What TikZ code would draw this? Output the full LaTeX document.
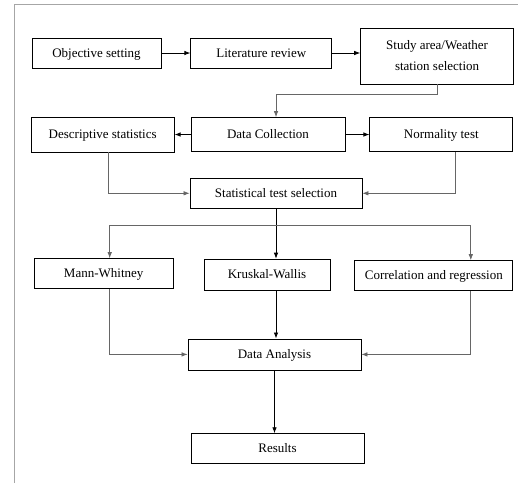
\documentclass[tikz,border=0pt]{standalone}
\usepackage{fontspec}
\setmainfont{Liberation Serif}
\usetikzlibrary{arrows.meta, positioning, calc}

\begin{document}
\begin{tikzpicture}[x=1pt, y=-1pt, >={Latex[length=6pt,width=4.5pt]},
    box/.style={draw, line width=0.8pt, inner sep=0pt, text height=9pt, text depth=1pt,
                font=\fontsize{13}{15}\selectfont},
    arr/.style={->, line width=0.8pt},
    elbow/.style={->, draw=black!60, line width=0.7pt}]
    \useasboundingbox (0,0) rectangle (518,483);
    % frame
    \draw[black!35, line width=1pt] (14,483) -- (14,4) -- (518,4);

    \node[box, minimum width=129pt, minimum height=30pt] (O) at (96.5,53) {Objective setting};
    \node[box, minimum width=141pt, minimum height=30pt, right=29pt of O] (L) {Literature review};
    \node[box, minimum width=153pt, minimum height=56pt, right=28pt of L, yshift=-3pt,
          align=center, text height=, text depth=] (S) {Study area/Weather\\[6pt]station selection};

    \node[box, minimum width=154pt, minimum height=34pt] (DC) at (268,134.5) {Data Collection};
    \node[box, minimum width=143pt, minimum height=35pt, left=16pt of DC] (DS) {Descriptive statistics};
    \node[box, minimum width=143pt, minimum height=34pt, right=24pt of DC] (NT) {Normality test};

    \node[box, minimum width=172pt, minimum height=30pt, below=26pt of DC, xshift=8pt] (STS) {Statistical test selection};

    \node[box, minimum width=126pt, minimum height=31pt, below=50pt of STS, xshift=-9pt] (KW) {Kruskal-Wallis};
    \node[box, minimum width=139pt, minimum height=30pt, left=30pt of KW, yshift=1pt] (MW) {Mann-Whitney};
    \node[box, minimum width=158pt, minimum height=30pt, right=24pt of KW, yshift=-1pt] (CR) {Correlation and regression};

    \node[box, minimum width=173pt, minimum height=31pt, below=48pt of KW, xshift=7.5pt] (DA) {Data Analysis};
    \node[box, minimum width=173pt, minimum height=30pt, below=63pt of DA, xshift=3pt] (R) {Results};

    \coordinate (ax) at (STS.south);
    \coordinate (br) at ($(STS.south)+(0,17)$);

    \draw[arr] (O) -- (L);
    \draw[arr] (L) -- (L -| S.west);
    \draw[elbow] (S.south) -- ++(0,10) -| (ax |- DC.north);

    \draw[arr] (DC) -- (DS);
    \draw[arr] (DC) -- (NT);
    \draw[elbow] ([xshift=6pt]DS.south) |- (STS.west);
    \draw[elbow] ([xshift=14pt]NT.south) |- (STS.east);

    \draw[arr] (STS.south) -- (ax |- KW.north);
    \draw[elbow] (br) -| ([xshift=6pt]MW.north);
    \draw[elbow] (br) -| ([xshift=37pt]CR.north);

    \draw[elbow] ([xshift=6pt]MW.south) |- (DA.west);
    \draw[elbow] ([xshift=37pt]CR.south) |- (DA.east);
    \draw[arr] (ax |- KW.south) -- (ax |- DA.north);

    \draw[arr] (DA.south) -- (DA.south |- R.north);
\end{tikzpicture}
\end{document}
